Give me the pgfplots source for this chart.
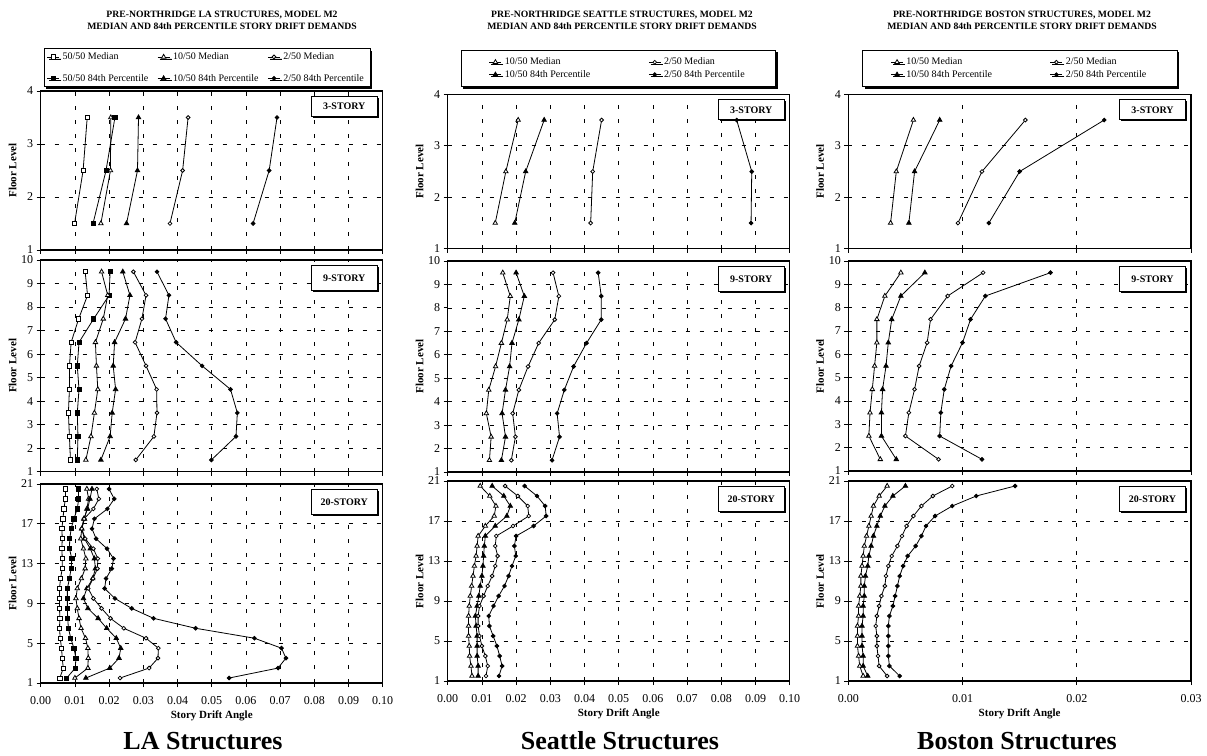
\documentclass[border=0pt]{standalone}
\usepackage{pgfplots}
\pgfplotsset{compat=1.18}
\usepackage{fontspec}
\setmainfont{Liberation Serif}
\usetikzlibrary{shadows}
\pgfplotsset{
  base/.style={scale only axis, width=342pt, xmin=0, ymin=1, scaled x ticks=false,
    /pgf/number format/assume math mode=true,
    tick label style={font=\fontsize{12}{14}\selectfont},
    xticklabel style={yshift=-6pt, /pgf/number format/.cd, fixed, fixed zerofill, precision=2},
    axis line style={line width=1.1pt},
    tick align=outside, xtick pos=bottom, ytick pos=left, major tick length=4pt,
    every tick/.style={black, line width=0.8pt},
    xmajorgrids, ymajorgrids,
    major grid style={black, line width=0.7pt, dash pattern=on 4pt off 10pt},
    ylabel={Floor Level},
    ylabel style={at={(axis description cs:-0.082,0.5)}, anchor=center, font=\fontsize{11}{13}\selectfont\bfseries},
    every axis plot/.append style={black, line width=0.8pt, mark size=2.1pt},
    legend image code/.code={\draw[mark repeat=2,mark phase=2] plot coordinates {(0pt,0pt) (6pt,0pt) (12pt,0pt)};},
    legend cell align=left,
    legend style={draw=black, line width=0.8pt, fill=white, font=\fontsize{10}{12}\selectfont,
      nodes={inner xsep=3pt},
      drop shadow={shadow xshift=2pt, shadow yshift=-2pt, fill=black, opacity=1}},
  },
  la/.style={base, xmax=0.1, xtick={0,0.01,0.02,0.03,0.04,0.05,0.06,0.07,0.08,0.09,0.1}},
  se/.style={base, xmax=0.1, xtick={0,0.01,0.02,0.03,0.04,0.05,0.06,0.07,0.08,0.09,0.1}},
  bo/.style={base, xmax=0.03, xtick={0,0.01,0.02,0.03}},
  s3/.style={ymax=4, ytick={1,2,3,4}, xticklabels={}},
  s9/.style={ymax=10, ytick={1,2,3,4,5,6,7,8,9,10}, xticklabels={}},
  s20/.style={ymax=21, ytick={1,5,9,13,17,21},
    xlabel={Story Drift Angle},
    xlabel style={font=\fontsize{11}{13}\selectfont\bfseries, at={(axis description cs:0.5,0)}, anchor=center, yshift=-33pt}},
  m50/.style={mark=square*, mark options={fill=white}},
  p50/.style={mark=square*, mark options={fill=black}},
  m10/.style={mark=triangle*, mark options={fill=white}, mark size=2.6pt},
  p10/.style={mark=triangle*, mark options={fill=black}, mark size=2.6pt},
  m2/.style={mark=*, mark options={fill=white}, mark size=1.9pt},
  p2/.style={mark=*, mark options={fill=black}, mark size=1.9pt},
}
\newcommand\storybox[2]{\node[draw, line width=0.9pt, fill=white, font=\fontsize{10}{12}\selectfont\bfseries,
  minimum width=66pt, minimum height=#2, anchor=north east, xshift=-5pt, yshift=-5pt,
  drop shadow={shadow xshift=1.5pt, shadow yshift=-1.5pt, fill=black, opacity=1}] at (rel axis cs:1,1) {#1};}
\begin{document}
\begin{tikzpicture}
\path[use as bounding box] (0pt,0pt) rectangle (1207pt,755pt);
% ---------------- titles ----------------
\node[align=center, font=\fontsize{9.7}{11.5}\selectfont\bfseries] at (222pt,734.5pt) {PRE-NORTHRIDGE LA STRUCTURES, MODEL M2\\MEDIAN AND 84th PERCENTILE STORY DRIFT DEMANDS};
\node[align=center, font=\fontsize{9.7}{11.5}\selectfont\bfseries] at (622pt,734.5pt) {PRE-NORTHRIDGE SEATTLE STRUCTURES, MODEL M2\\MEDIAN AND 84th PERCENTILE STORY DRIFT DEMANDS};
\node[align=center, font=\fontsize{9.7}{11.5}\selectfont\bfseries] at (1022pt,734.5pt) {PRE-NORTHRIDGE BOSTON STRUCTURES, MODEL M2\\MEDIAN AND 84th PERCENTILE STORY DRIFT DEMANDS};
\node[font=\fontsize{26}{30}\selectfont\bfseries] at (203pt,14pt) {LA Structures};
\node[font=\fontsize{26}{30}\selectfont\bfseries] at (620pt,14pt) {Seattle Structures};
\node[font=\fontsize{26}{30}\selectfont\bfseries] at (1017pt,14pt) {Boston Structures};

% ================= LA =================
\begin{axis}[la, s3, at={(40.7pt,505pt)}, anchor=south west, height=159pt,
  legend columns=3, legend style={at={(axis description cs:0.486,1)}, anchor=south, yshift=4pt,
   inner xsep=3pt, inner ysep=2pt, /tikz/every even column/.append style={column sep=6pt}, row sep=9pt}]
\addplot[m50] coordinates {(0.0099,1.5)(0.0124,2.5)(0.0136,3.5)};
\addlegendentry{50/50 Median}
\addplot[m10] coordinates {(0.0176,1.5)(0.0204,2.5)(0.0205,3.5)};
\addlegendentry{10/50 Median}
\addplot[m2] coordinates {(0.0378,1.5)(0.0415,2.5)(0.0431,3.5)};
\addlegendentry{2/50 Median}
\addplot[p50] coordinates {(0.0153,1.5)(0.0191,2.5)(0.0217,3.5)};
\addlegendentry{50/50 84th Percentile}
\addplot[p10] coordinates {(0.0251,1.5)(0.0283,2.5)(0.0286,3.5)};
\addlegendentry{10/50 84th Percentile}
\addplot[p2] coordinates {(0.0621,1.5)(0.0668,2.5)(0.0691,3.5)};
\addlegendentry{2/50 84th Percentile}
\storybox{3-STORY}{20pt}
\end{axis}

\begin{axis}[la, s9, at={(40.7pt,283.3pt)}, anchor=south west, height=211.7pt]
\addplot[m50] coordinates {(0.0130,9.5)(0.0137,8.5)(0.0111,7.5)(0.0089,6.5)(0.0084,5.5)(0.0084,4.5)(0.0081,3.5)(0.0084,2.5)(0.0087,1.5)};
\addplot[p50] coordinates {(0.0203,9.5)(0.0200,8.5)(0.0155,7.5)(0.0112,6.5)(0.0107,5.5)(0.0112,4.5)(0.0107,3.5)(0.0109,2.5)(0.0107,1.5)};
\addplot[m10] coordinates {(0.0178,9.5)(0.0196,8.5)(0.0183,7.5)(0.0160,6.5)(0.0163,5.5)(0.0167,4.5)(0.0157,3.5)(0.0147,2.5)(0.0132,1.5)};
\addplot[p10] coordinates {(0.0240,9.5)(0.0261,8.5)(0.0248,7.5)(0.0216,6.5)(0.0212,5.5)(0.0219,4.5)(0.0209,3.5)(0.0203,2.5)(0.0176,1.5)};
\addplot[m2] coordinates {(0.0271,9.5)(0.0308,8.5)(0.0296,7.5)(0.0276,6.5)(0.0308,5.5)(0.0339,4.5)(0.0340,3.5)(0.0331,2.5)(0.0278,1.5)};
\addplot[p2] coordinates {(0.0340,9.5)(0.0375,8.5)(0.0365,7.5)(0.0396,6.5)(0.0472,5.5)(0.0555,4.5)(0.0575,3.5)(0.0571,2.5)(0.0499,1.5)};
\storybox{9-STORY}{25pt}
\end{axis}

\begin{axis}[la, s20, at={(40.7pt,72pt)}, anchor=south west, height=199pt]
\addplot[m50] coordinates {(0.0056,1.5)(0.0066,2.5)(0.0063,3.5)(0.0061,4.5)(0.0057,5.5)(0.0055,6.5)(0.0056,7.5)(0.0055,8.5)(0.0055,9.5)(0.0055,10.5)(0.0058,11.5)(0.0063,12.5)(0.0063,13.5)(0.0062,14.5)(0.0063,15.5)(0.0062,16.5)(0.0065,17.5)(0.0068,18.5)(0.0072,19.5)(0.0073,20.5)};
\addplot[p50] coordinates {(0.0076,1.5)(0.0101,2.5)(0.0103,3.5)(0.0097,4.5)(0.0088,5.5)(0.0081,6.5)(0.0079,7.5)(0.0078,8.5)(0.0078,9.5)(0.0078,10.5)(0.0084,11.5)(0.0089,12.5)(0.0091,13.5)(0.0084,14.5)(0.0085,15.5)(0.0089,16.5)(0.0097,17.5)(0.0107,18.5)(0.0111,19.5)(0.0110,20.5)};
\addplot[m10] coordinates {(0.0100,1.5)(0.0138,2.5)(0.0139,3.5)(0.0138,4.5)(0.0131,5.5)(0.0118,6.5)(0.0112,7.5)(0.0107,8.5)(0.0103,9.5)(0.0107,10.5)(0.0119,11.5)(0.0130,12.5)(0.0132,13.5)(0.0125,14.5)(0.0117,15.5)(0.0120,16.5)(0.0128,17.5)(0.0135,18.5)(0.0140,19.5)(0.0135,20.5)};
\addplot[p10] coordinates {(0.0132,1.5)(0.0202,2.5)(0.0229,3.5)(0.0234,4.5)(0.0221,5.5)(0.0193,6.5)(0.0168,7.5)(0.0138,8.5)(0.0125,9.5)(0.0135,10.5)(0.0152,11.5)(0.0160,12.5)(0.0157,13.5)(0.0145,14.5)(0.0128,15.5)(0.0120,16.5)(0.0126,17.5)(0.0137,18.5)(0.0144,19.5)(0.0150,20.5)};
\addplot[m2] coordinates {(0.0232,1.5)(0.0317,2.5)(0.0343,3.5)(0.0344,4.5)(0.0308,5.5)(0.0243,6.5)(0.0204,7.5)(0.0178,8.5)(0.0154,9.5)(0.0139,10.5)(0.0153,11.5)(0.0166,12.5)(0.0167,13.5)(0.0154,14.5)(0.0130,15.5)(0.0120,16.5)(0.0127,17.5)(0.0154,18.5)(0.0170,19.5)(0.0164,20.5)};
\addplot[p2] coordinates {(0.0551,1.5)(0.0694,2.5)(0.0717,3.5)(0.0704,4.5)(0.0625,5.5)(0.0453,6.5)(0.0330,7.5)(0.0266,8.5)(0.0217,9.5)(0.0187,10.5)(0.0191,11.5)(0.0208,12.5)(0.0213,13.5)(0.0194,14.5)(0.0162,15.5)(0.0150,16.5)(0.0157,17.5)(0.0195,18.5)(0.0215,19.5)(0.0200,20.5)};
\storybox{20-STORY}{25pt}
\end{axis}

% ================= SEATTLE =================
\begin{axis}[se, s3, at={(447.7pt,506.2pt)}, anchor=south west, height=154.5pt,
  legend columns=2, legend style={at={(axis description cs:0.499,1)}, anchor=south, yshift=7pt,
   inner xsep=28pt, inner ysep=6pt, /tikz/every even column/.append style={column sep=55pt}, row sep=0pt}]
\addplot[m10] coordinates {(0.0139,1.5)(0.0170,2.5)(0.0206,3.5)};
\addlegendentry{10/50 Median}
\addplot[m2] coordinates {(0.0418,1.5)(0.0424,2.5)(0.0450,3.5)};
\addlegendentry{2/50 Median}
\addplot[p10] coordinates {(0.0196,1.5)(0.0228,2.5)(0.0282,3.5)};
\addlegendentry{10/50 84th Percentile}
\addplot[p2] coordinates {(0.0887,1.5)(0.0889,2.5)(0.0845,3.5)};
\addlegendentry{2/50 84th Percentile}
\storybox{3-STORY}{20pt}
\end{axis}

\begin{axis}[se, s9, at={(447.7pt,283pt)}, anchor=south west, height=211pt]
\addplot[m10] coordinates {(0.0161,9.5)(0.0183,8.5)(0.0174,7.5)(0.0157,6.5)(0.0140,5.5)(0.0120,4.5)(0.0113,3.5)(0.0127,2.5)(0.0122,1.5)};
\addplot[p10] coordinates {(0.0200,9.5)(0.0224,8.5)(0.0208,7.5)(0.0188,6.5)(0.0181,5.5)(0.0169,4.5)(0.0159,3.5)(0.0169,2.5)(0.0157,1.5)};
\addplot[m2] coordinates {(0.0308,9.5)(0.0325,8.5)(0.0313,7.5)(0.0266,6.5)(0.0235,5.5)(0.0208,4.5)(0.0190,3.5)(0.0198,2.5)(0.0186,1.5)};
\addplot[p2] coordinates {(0.0440,9.5)(0.0449,8.5)(0.0449,7.5)(0.0406,6.5)(0.0368,5.5)(0.0341,4.5)(0.0320,3.5)(0.0327,2.5)(0.0305,1.5)};
\storybox{9-STORY}{25pt}
\end{axis}

\begin{axis}[se, s20, at={(447.7pt,74pt)}, anchor=south west, height=200pt]
\addplot[m10] coordinates {(0.0095,20.5)(0.0123,19.5)(0.0141,18.5)(0.0136,17.5)(0.0110,16.5)(0.0089,15.5)(0.0086,14.5)(0.0083,13.5)(0.0078,12.5)(0.0074,11.5)(0.0070,10.5)(0.0066,9.5)(0.0063,8.5)(0.0061,7.5)(0.0061,6.5)(0.0061,5.5)(0.0063,4.5)(0.0064,3.5)(0.0068,2.5)(0.0071,1.5)};
\addplot[p10] coordinates {(0.0130,20.5)(0.0164,19.5)(0.0183,18.5)(0.0173,17.5)(0.0139,16.5)(0.0110,15.5)(0.0107,14.5)(0.0105,13.5)(0.0103,12.5)(0.0100,11.5)(0.0095,10.5)(0.0091,9.5)(0.0086,8.5)(0.0081,7.5)(0.0083,6.5)(0.0086,5.5)(0.0086,4.5)(0.0086,3.5)(0.0089,2.5)(0.0089,1.5)};
\addplot[m2] coordinates {(0.0168,20.5)(0.0205,19.5)(0.0234,18.5)(0.0237,17.5)(0.0191,16.5)(0.0142,15.5)(0.0139,14.5)(0.0146,13.5)(0.0139,12.5)(0.0130,11.5)(0.0117,10.5)(0.0105,9.5)(0.0093,8.5)(0.0089,7.5)(0.0089,6.5)(0.0093,5.5)(0.0100,4.5)(0.0110,3.5)(0.0117,2.5)(0.0112,1.5)};
\addplot[p2] coordinates {(0.0225,20.5)(0.0261,19.5)(0.0285,18.5)(0.0288,17.5)(0.0251,16.5)(0.0200,15.5)(0.0195,14.5)(0.0199,13.5)(0.0188,12.5)(0.0178,11.5)(0.0166,10.5)(0.0149,9.5)(0.0134,8.5)(0.0120,7.5)(0.0122,6.5)(0.0133,5.5)(0.0144,4.5)(0.0152,3.5)(0.0159,2.5)(0.0150,1.5)};
\storybox{20-STORY}{25pt}
\end{axis}

% ================= BOSTON =================
\begin{axis}[bo, s3, at={(848.3pt,506.2pt)}, anchor=south west, width=342.7pt, height=154.5pt,
  legend columns=2, legend style={at={(axis description cs:0.501,1)}, anchor=south, yshift=7pt,
   inner xsep=28pt, inner ysep=6pt, /tikz/every even column/.append style={column sep=55pt}, row sep=0pt}]
\addplot[m10] coordinates {(0.0037,1.5)(0.0042,2.5)(0.0057,3.5)};
\addlegendentry{10/50 Median}
\addplot[m2] coordinates {(0.0096,1.5)(0.0117,2.5)(0.0155,3.5)};
\addlegendentry{2/50 Median}
\addplot[p10] coordinates {(0.0053,1.5)(0.0058,2.5)(0.0080,3.5)};
\addlegendentry{10/50 84th Percentile}
\addplot[p2] coordinates {(0.0123,1.5)(0.0150,2.5)(0.0224,3.5)};
\addlegendentry{2/50 84th Percentile}
\storybox{3-STORY}{20pt}
\end{axis}

\begin{axis}[bo, s9, at={(848.3pt,284pt)}, anchor=south west, width=342.7pt, height=210pt]
\addplot[m10] coordinates {(0.0046,9.5)(0.0032,8.5)(0.0025,7.5)(0.0025,6.5)(0.0023,5.5)(0.0021,4.5)(0.0019,3.5)(0.0018,2.5)(0.0028,1.5)};
\addplot[p10] coordinates {(0.0067,9.5)(0.0046,8.5)(0.0038,7.5)(0.0035,6.5)(0.0033,5.5)(0.0030,4.5)(0.0029,3.5)(0.0029,2.5)(0.0042,1.5)};
\addplot[m2] coordinates {(0.0118,9.5)(0.0087,8.5)(0.0072,7.5)(0.0069,6.5)(0.0062,5.5)(0.0058,4.5)(0.0053,3.5)(0.0050,2.5)(0.0079,1.5)};
\addplot[p2] coordinates {(0.0177,9.5)(0.0120,8.5)(0.0107,7.5)(0.0100,6.5)(0.0090,5.5)(0.0084,4.5)(0.0081,3.5)(0.0080,2.5)(0.0117,1.5)};
\storybox{9-STORY}{25pt}
\end{axis}

\begin{axis}[bo, s20, at={(848.3pt,74pt)}, anchor=south west, width=342.7pt, height=200pt]
\addplot[m10] coordinates {(0.0034,20.5)(0.0027,19.5)(0.0022,18.5)(0.0020,17.5)(0.0018,16.5)(0.0016,15.5)(0.0014,14.5)(0.0013,13.5)(0.0012,12.5)(0.0011,11.5)(0.0011,10.5)(0.0010,9.5)(0.0009,8.5)(0.0009,7.5)(0.0008,6.5)(0.0008,5.5)(0.0008,4.5)(0.0009,3.5)(0.0010,2.5)(0.0013,1.5)};
\addplot[p10] coordinates {(0.0050,20.5)(0.0039,19.5)(0.0032,18.5)(0.0028,17.5)(0.0025,16.5)(0.0022,15.5)(0.0020,14.5)(0.0018,13.5)(0.0017,12.5)(0.0015,11.5)(0.0014,10.5)(0.0014,9.5)(0.0013,8.5)(0.0013,7.5)(0.0012,6.5)(0.0012,5.5)(0.0012,4.5)(0.0013,3.5)(0.0013,2.5)(0.0017,1.5)};
\addplot[m2] coordinates {(0.0091,20.5)(0.0074,19.5)(0.0064,18.5)(0.0057,17.5)(0.0051,16.5)(0.0047,15.5)(0.0043,14.5)(0.0038,13.5)(0.0035,12.5)(0.0033,11.5)(0.0032,10.5)(0.0029,9.5)(0.0027,8.5)(0.0025,7.5)(0.0024,6.5)(0.0025,5.5)(0.0025,4.5)(0.0026,3.5)(0.0027,2.5)(0.0034,1.5)};
\addplot[p2] coordinates {(0.0146,20.5)(0.0112,19.5)(0.0091,18.5)(0.0076,17.5)(0.0068,16.5)(0.0064,15.5)(0.0059,14.5)(0.0052,13.5)(0.0048,12.5)(0.0045,11.5)(0.0043,10.5)(0.0041,9.5)(0.0039,8.5)(0.0036,7.5)(0.0035,6.5)(0.0035,5.5)(0.0035,4.5)(0.0035,3.5)(0.0036,2.5)(0.0045,1.5)};
\storybox{20-STORY}{25pt}
\end{axis}
\end{tikzpicture}
\end{document}
